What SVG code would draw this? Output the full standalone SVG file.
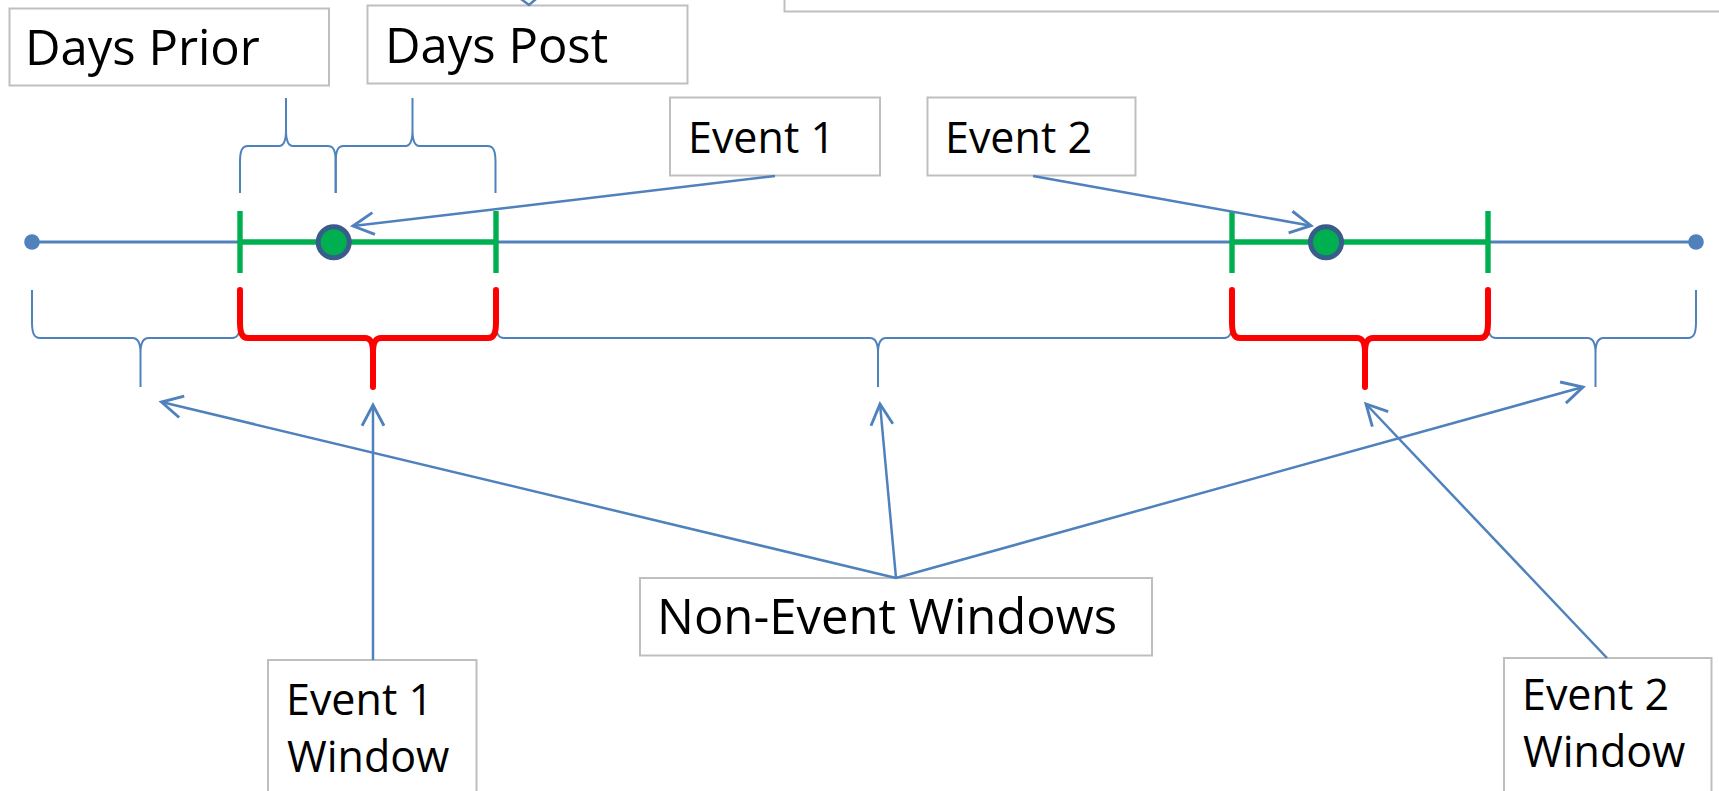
<svg xmlns="http://www.w3.org/2000/svg" width="1719" height="791" viewBox="0 0 1719 791">
<style>
.box{fill:#fff;stroke:#bfbfbf;stroke-width:2}
.t{font-family:"Open Sans","DejaVu Sans",sans-serif;fill:#000}
.big{font-size:49px}
.mid{font-size:43px}
.brace{fill:none;stroke:#4f81bd;stroke-width:2}
.rbrace{fill:none;stroke:#ff0000;stroke-width:6;stroke-linecap:round;stroke-linejoin:round}
.conn{fill:none;stroke:#4f81bd;stroke-width:2.5;marker-end:url(#arr)}
</style>
<defs>
<marker id="arr" markerUnits="userSpaceOnUse" markerWidth="30" markerHeight="30" viewBox="-22 -12 26 24" refX="0" refY="0" orient="auto">
<path d="M-18,-9.5 L0,0 L-18,9.5" fill="none" stroke="#4f81bd" stroke-width="2.5"/>
</marker>
</defs>
<rect width="1719" height="791" fill="#fff"/>

<g id="top-right-box"><rect class="box" x="784.5" y="-20" width="1000" height="31.5"/></g>

<g id="days-prior"><rect class="box" x="9.5" y="8.5" width="319.5" height="77"/><text class="t big" x="25" y="65">Days Prior</text></g>
<g id="days-post"><rect class="box" x="367.5" y="5.5" width="320" height="78"/><text class="t big" x="385" y="63">Days Post</text></g>
<g id="event1"><rect class="box" x="670" y="97.5" width="210" height="78"/><text class="t mid" x="688" y="152.7">Event 1</text></g>
<g id="event2"><rect class="box" x="927.5" y="97.5" width="208" height="78"/><text class="t mid" x="945" y="152.7">Event 2</text></g>
<g id="non-event"><rect class="box" x="640" y="578" width="512" height="77.5"/><text class="t big" x="657" y="634.3">Non-Event Windows</text></g>
<g id="event1-window"><rect class="box" x="268" y="660" width="208.5" height="160"/><text class="t mid" x="286" y="715">Event 1</text><text class="t mid" x="287" y="771.7">Window</text></g>
<g id="event2-window"><rect class="box" x="1504" y="658" width="207.5" height="160"/><text class="t mid" x="1522" y="710">Event 2</text><text class="t mid" x="1523" y="766.7">Window</text></g>

<g id="timeline">
<line x1="32" y1="242" x2="1696" y2="242" stroke="#4f81bd" stroke-width="3"/>
<circle cx="32" cy="242" r="7.8" fill="#4f81bd"/>
<circle cx="1696" cy="242" r="7.8" fill="#4f81bd"/>
<line x1="240" y1="242" x2="496" y2="242" stroke="#00b050" stroke-width="5.5"/>
<line x1="240" y1="211" x2="240" y2="273" stroke="#00b050" stroke-width="5.4"/>
<line x1="496" y1="211" x2="496" y2="273" stroke="#00b050" stroke-width="5.4"/>
<line x1="1232" y1="242" x2="1488" y2="242" stroke="#00b050" stroke-width="5.5"/>
<line x1="1232" y1="211" x2="1232" y2="273" stroke="#00b050" stroke-width="5.4"/>
<line x1="1488" y1="211" x2="1488" y2="273" stroke="#00b050" stroke-width="5.4"/>
</g>
<g id="event1-dot"><circle cx="333.7" cy="242.3" r="15.5" fill="#00b050" stroke="#385d8a" stroke-width="5"/></g>
<g id="event2-dot"><circle cx="1326" cy="242.3" r="15.5" fill="#00b050" stroke="#385d8a" stroke-width="5"/></g>

<g id="top-braces">
<path class="brace" d="M240,193 L240,162 C240,151 242,146 248,146 L279,146 C284,146 286,141 286,130 L286,98 M286,130 C286,141 288,146 293,146 L327.7,146 C333.7,146 335.7,151 335.7,162 L335.7,193"/>
<path class="brace" d="M335.7,193 L335.7,162 C335.7,151 337.7,146 343.7,146 L405.5,146 C410.5,146 412.5,141 412.5,130 L412.5,98 M412.5,130 C412.5,141 414.5,146 419.5,146 L487.5,146 C493.5,146 495.5,151 495.5,162 L495.5,193"/>
</g>

<g id="bottom-braces">
<path class="brace" d="M32,290 L32,322 C32,333 34,338 40,338 L132.5,338 C138.5,338 140.5,343 140.5,353 L140.5,387 M140.5,353 C140.5,343 142.5,338 148.5,338 L232,338 C238,338 240,333 240,322 L240,290"/>
<path class="brace" d="M496,290 L496,322 C496,333 498,338 504,338 L870,338 C876,338 878,343 878,353 L878,387 M878,353 C878,343 880,338 886,338 L1224,338 C1230,338 1232,333 1232,322 L1232,290"/>
<path class="brace" d="M1488,290 L1488,322 C1488,333 1490,338 1496,338 L1587.5,338 C1593.5,338 1595.5,343 1595.5,353 L1595.5,387 M1595.5,353 C1595.5,343 1597.5,338 1603.5,338 L1688,338 C1694,338 1696,333 1696,322 L1696,290"/>
<path class="rbrace" d="M240,290 L240,322 C240,333 242,338 248,338 L365,338 C371,338 373,343 373,353 L373,387 M373,353 C373,343 375,338 381,338 L488,338 C494,338 496,333 496,322 L496,290"/>
<path class="rbrace" d="M1232,290 L1232,322 C1232,333 1234,338 1240,338 L1357,338 C1363,338 1365,343 1365,353 L1365,387 M1365,353 C1365,343 1367,338 1373,338 L1480,338 C1486,338 1488,333 1488,322 L1488,290"/>
</g>

<g id="connectors">
<path d="M521,-1 L529,5 L536,-1" fill="none" stroke="#4f81bd" stroke-width="2.5"/>
<line class="conn" x1="775" y1="176" x2="353" y2="226"/>
<line class="conn" x1="1033" y1="176" x2="1311" y2="225.7"/>
<line class="conn" x1="896" y1="578" x2="161.5" y2="402"/>
<line class="conn" x1="896" y1="578" x2="880" y2="404"/>
<line class="conn" x1="896" y1="578" x2="1583" y2="387"/>
<line class="conn" x1="373" y1="660" x2="373" y2="405"/>
<line class="conn" x1="1607" y1="658" x2="1366" y2="404"/>
</g>
</svg>
